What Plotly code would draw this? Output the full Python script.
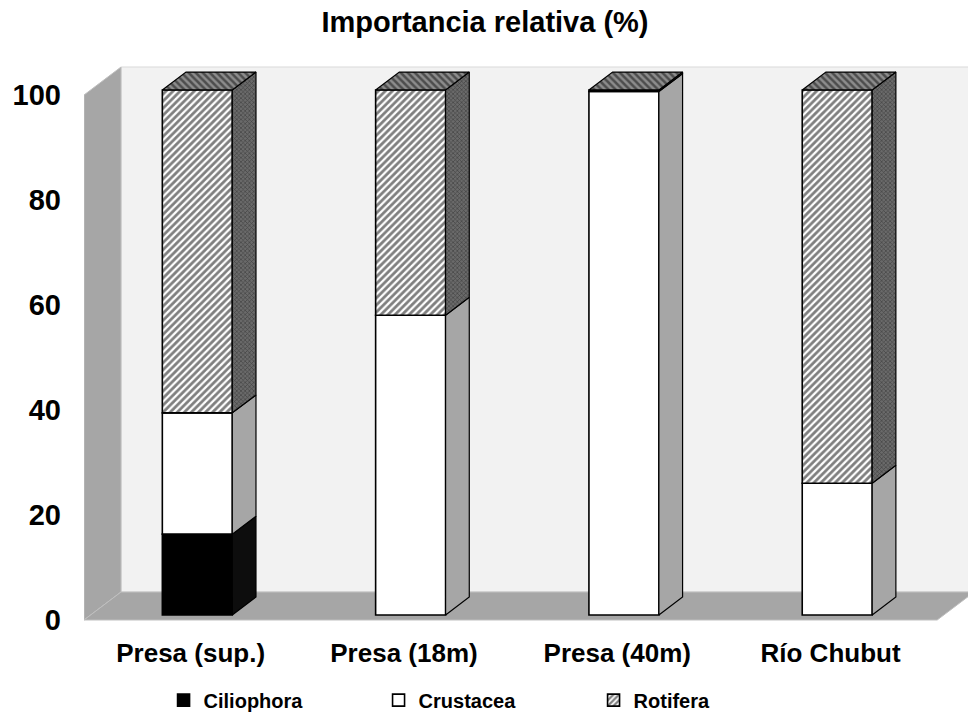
import plotly.graph_objects as go

# Relative importance (%) of each zooplankton group per sampling site
categories = ["Presa (sup.)", "Presa (18m)", "Presa (40m)", "Río Chubut"]
ciliophora = [15.4, 0.0, 0.0, 0.0]
crustacea = [23.1, 57.1, 99.7, 25.1]
rotifera = [61.5, 42.9, 0.3, 74.9]
y_ticks = [0, 20, 40, 60, 80, 100]
series_names = ["Ciliophora", "Crustacea", "Rotifera"]

# --- pseudo-3D projection (in axis units) ---------------------------------
DEPTH_X = 0.1735      # horizontal shift of the full floor depth
DEPTH_Y = 5.333       # vertical shift of the full floor depth
D_FRONT, D_BACK = 0.18, 0.82   # depth slice occupied by the columns
BAR_W = 0.328
X_MIN, X_MAX = -0.5, 3.6444
Y_MIN, Y_MAX = -0.952, 106.667
FONT = "Liberation Sans, Arial, Helvetica, sans-serif"

n = len(categories)
series = [ciliophora, crustacea, rotifera]

front_style = [
    dict(color="#000000"),
    dict(color="#ffffff"),
    dict(color="#ffffff", pattern=dict(shape="/", fgcolor="#000000", bgcolor="#ffffff",
                                       size=5, solidity=0.55)),
]
side_style = [
    dict(fillcolor="#0d0d0d"),
    dict(fillcolor="#a6a6a6"),
    dict(fillcolor="#4d4d4d", fillpattern=dict(shape="x", fgcolor="#1a1a1a", bgcolor="#6a6a6a",
                                               size=3, solidity=0.4)),
]
top_style = [
    dict(fillcolor="#1a1a1a"),
    dict(fillcolor="#d9d9d9"),
    dict(fillcolor="#666666", fillpattern=dict(shape="\\", fgcolor="#0d0d0d", bgcolor="#8c8c8c",
                                               size=5, solidity=0.5)),
]


def poly(xs, ys, line_color="#000000", line_width=1.2, **fill):
    return go.Scatter(x=xs + xs[:1], y=ys + ys[:1], mode="lines", fill="toself",
                      line=dict(color=line_color, width=line_width),
                      hoverinfo="skip", showlegend=False, **fill)


def wall(xs, ys, fill, edge):
    path = "M " + " L ".join(f"{x},{y}" for x, y in zip(xs, ys)) + " Z"
    return dict(type="path", path=path, xref="x", yref="y", layer="below",
                fillcolor=fill, line=dict(color=edge, width=1))


fig = go.Figure()

# back wall, side wall and floor
bx0 = X_MIN + DEPTH_X
shapes = [
    wall([bx0, X_MAX + 1, X_MAX + 1, bx0],
         [DEPTH_Y, DEPTH_Y, 100 + DEPTH_Y, 100 + DEPTH_Y], "#f2f2f2", "#d9d9d9"),
    wall([X_MIN, X_MIN, bx0, bx0], [0, 100, 100 + DEPTH_Y, DEPTH_Y], "#a6a6a6", "#bfbfbf"),
    wall([X_MIN, n - 0.5, n - 0.5 + DEPTH_X, bx0], [0, 0, DEPTH_Y, DEPTH_Y], "#a6a6a6", "#bfbfbf"),
]

# front faces of the columns
sx, sy = D_FRONT * DEPTH_X, D_FRONT * DEPTH_Y
cum = [0.0] * n
for k, (name, vals) in enumerate(zip(series_names, series)):
    ys = [v if v > 0 else None for v in vals]
    fig.add_trace(go.Bar(
        name=name,
        x=[i + sx for i in range(n)],
        y=ys,
        base=[c + sy for c in cum],
        width=BAR_W,
        marker=dict(line=dict(color="#000000", width=1.6), **front_style[k]),
        hoverinfo="skip",
    ))
    cum = [c + v for c, v in zip(cum, vals)]

# side and top faces of the stacked columns
ddx, ddy = (D_BACK - D_FRONT) * DEPTH_X, (D_BACK - D_FRONT) * DEPTH_Y
for i in range(n):
    xl = i + sx - BAR_W / 2
    xr = i + sx + BAR_W / 2
    base = 0.0
    top_k = None
    for k, vals in enumerate(series):
        v = vals[i]
        if v <= 0:
            continue
        b, t = base + sy, base + v + sy
        fig.add_trace(poly([xr, xr, xr + ddx, xr + ddx], [b, t, t + ddy, b + ddy],
                           **side_style[k]))
        base += v
        top_k = k
    if top_k is not None:
        T = base + sy
        fig.add_trace(poly([xl, xr, xr + ddx, xl + ddx], [T, T, T + ddy, T + ddy],
                           **top_style[top_k]))

fig.update_layout(
    width=968, height=720,
    margin=dict(l=84, r=0, t=60, b=95),
    paper_bgcolor="#ffffff", plot_bgcolor="rgba(0,0,0,0)",
    barmode="overlay",
    shapes=shapes,
    title=dict(text="Importancia relativa (%)", x=0.501, xref="container", xanchor="center",
               y=1 - 22 / 720, yref="container", yanchor="middle",
               font=dict(family=FONT, size=29, color="#000000", weight="bold")),
    xaxis=dict(range=[X_MIN, X_MAX], tickvals=list(range(n)), ticktext=categories,
               showgrid=False, zeroline=False, showline=False, ticks="",
               ticklabelstandoff=10,
               tickfont=dict(family=FONT, size=26, color="#000000", weight="bold")),
    yaxis=dict(range=[Y_MIN, Y_MAX], tickvals=y_ticks, ticktext=[str(t) for t in y_ticks],
               showgrid=False, zeroline=False, showline=False, ticks="",
               ticklabelstandoff=22,
               tickfont=dict(family=FONT, size=29, color="#000000", weight="bold")),
    legend=dict(orientation="h", x=0.090, xanchor="left", y=-0.133, yanchor="middle",
                entrywidth=170, entrywidthmode="pixels",
                font=dict(family=FONT, size=20, color="#000000", weight="bold"),
                bgcolor="rgba(0,0,0,0)"),
    showlegend=True,
)

fig.write_html("out.html")
